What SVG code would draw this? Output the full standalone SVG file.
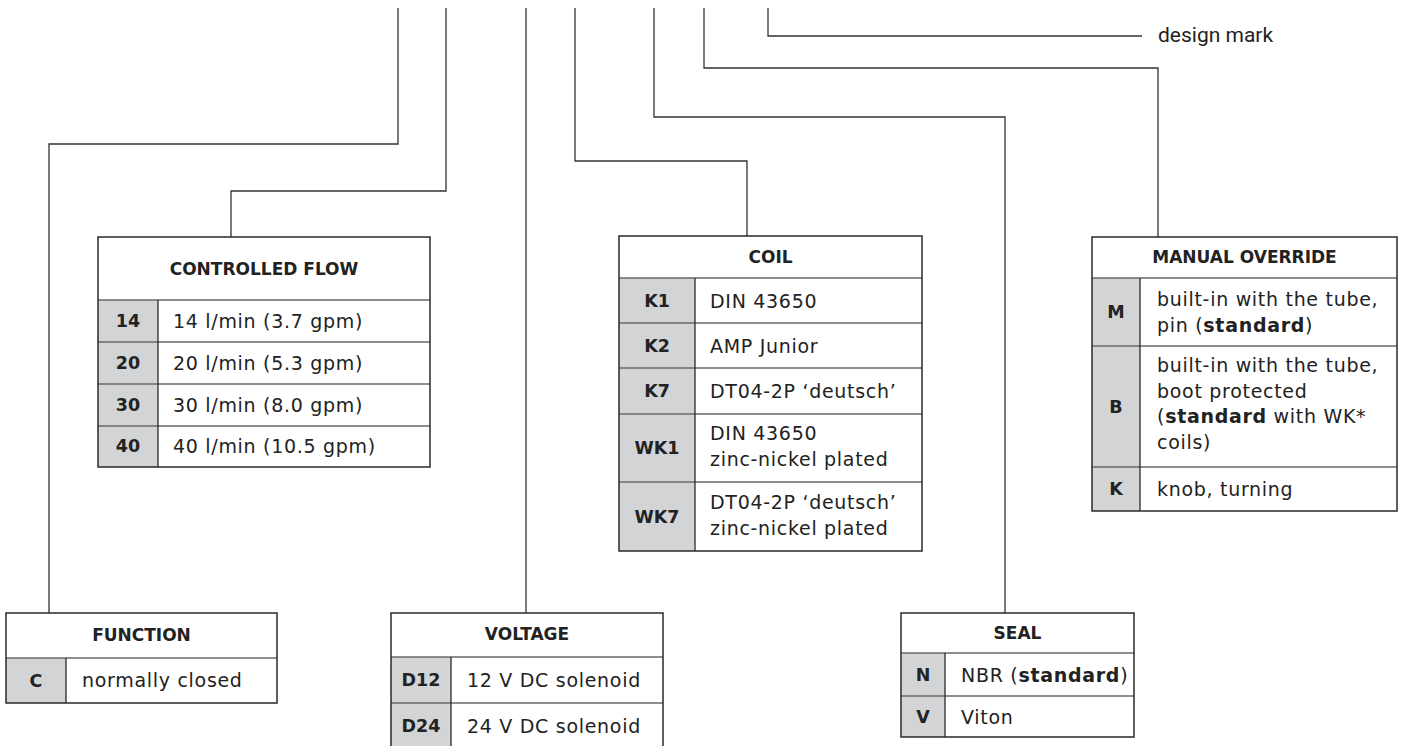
<svg xmlns="http://www.w3.org/2000/svg" width="1402" height="746" viewBox="0 0 1402 746">
<style>
.bg{fill:#ffffff}
.cell{fill:#d3d4d6}
.out{fill:none;stroke:#2a2a2a;stroke-width:1.5}
.sep{fill:none;stroke:#6a6a6a;stroke-width:1.5}
.col{fill:none;stroke:#2a2a2a;stroke-width:1.3}
.conn{fill:none;stroke:#333333;stroke-width:1.3}
text{fill:#222222;font-family:"DejaVu Sans","Liberation Sans",sans-serif}
.h{font-size:17px;font-weight:bold;text-anchor:middle}
.c{font-size:17.5px;font-weight:bold;text-anchor:middle}
.d{font-size:19px;letter-spacing:0.7px}
.b{font-weight:bold}
.mark{font-family:Roboto,"Liberation Sans",sans-serif;font-size:21px}
</style>

<g id="connectors">
<path class="conn" d="M398,8 V144 H49 V613"/>
<path class="conn" d="M446,8 V191 H231 V237"/>
<path class="conn" d="M526,8 V613"/>
<path class="conn" d="M575,8 V161 H747 V236"/>
<path class="conn" d="M654,8 V117 H1005 V613"/>
<path class="conn" d="M704,8 V68 H1158 V237"/>
<path class="conn" d="M768,8 V36 H1142"/>
</g>

<g id="design-mark">
<text class="mark" x="1158" y="42">design mark</text>
</g>

<g id="controlled-flow">
<rect class="bg" x="98" y="237" width="332" height="230"/>
<rect class="cell" x="98" y="300" width="60" height="167"/>
<path class="sep" d="M98,300 H430 M98,342 H430 M98,384 H430 M98,426 H430"/>
<path class="col" d="M158,300 V467"/>
<rect class="out" x="98" y="237" width="332" height="230"/>
<text class="h" x="264" y="275">CONTROLLED FLOW</text>
<text class="c" x="128" y="327">14</text>
<text class="c" x="128" y="369">20</text>
<text class="c" x="128" y="411">30</text>
<text class="c" x="128" y="452">40</text>
<text class="d" x="173" y="328">14 l/min (3.7 gpm)</text>
<text class="d" x="173" y="370">20 l/min (5.3 gpm)</text>
<text class="d" x="173" y="412">30 l/min (8.0 gpm)</text>
<text class="d" x="173" y="453">40 l/min (10.5 gpm)</text>
</g>

<g id="coil">
<rect class="bg" x="619" y="236" width="303" height="315"/>
<rect class="cell" x="619" y="278" width="76" height="273"/>
<path class="sep" d="M619,278 H922 M619,323 H922 M619,368 H922 M619,414 H922 M619,482 H922"/>
<path class="col" d="M695,278 V551"/>
<rect class="out" x="619" y="236" width="303" height="315"/>
<text class="h" x="770.5" y="263">COIL</text>
<text class="c" x="657" y="307">K1</text>
<text class="c" x="657" y="352">K2</text>
<text class="c" x="657" y="397">K7</text>
<text class="c" x="657" y="454">WK1</text>
<text class="c" x="657" y="523">WK7</text>
<text class="d" x="710" y="308">DIN 43650</text>
<text class="d" x="710" y="353">AMP Junior</text>
<text class="d" x="710" y="398">DT04-2P ‘deutsch’</text>
<text class="d" x="710" y="440">DIN 43650</text>
<text class="d" x="710" y="466">zinc-nickel plated</text>
<text class="d" x="710" y="509">DT04-2P ‘deutsch’</text>
<text class="d" x="710" y="535">zinc-nickel plated</text>
</g>

<g id="manual-override">
<rect class="bg" x="1092" y="237" width="305" height="274"/>
<rect class="cell" x="1092" y="278" width="48" height="233"/>
<path class="sep" d="M1092,278 H1397 M1092,346 H1397 M1092,467 H1397"/>
<path class="col" d="M1140,278 V511"/>
<rect class="out" x="1092" y="237" width="305" height="274"/>
<text class="h" x="1244.5" y="263">MANUAL OVERRIDE</text>
<text class="c" x="1116" y="318">M</text>
<text class="c" x="1116" y="413">B</text>
<text class="c" x="1116" y="495">K</text>
<text class="d" x="1157" y="306">built-in with the tube,</text>
<text class="d" x="1157" y="332">pin (<tspan class="b">standard</tspan>)</text>
<text class="d" x="1157" y="372">built-in with the tube,</text>
<text class="d" x="1157" y="397.5">boot protected</text>
<text class="d" x="1157" y="423">(<tspan class="b">standard</tspan> with WK*</text>
<text class="d" x="1157" y="448.5">coils)</text>
<text class="d" x="1157" y="496">knob, turning</text>
</g>

<g id="function">
<rect class="bg" x="6" y="613" width="271" height="90"/>
<rect class="cell" x="6" y="658" width="60" height="45"/>
<path class="sep" d="M6,658 H277"/>
<path class="col" d="M66,658 V703"/>
<rect class="out" x="6" y="613" width="271" height="90"/>
<text class="h" x="141.5" y="641">FUNCTION</text>
<text class="c" x="36" y="687">C</text>
<text class="d" x="82" y="687">normally closed</text>
</g>

<g id="voltage">
<rect class="bg" x="391" y="613" width="272" height="140"/>
<rect class="cell" x="391" y="657" width="60" height="96"/>
<path class="sep" d="M391,657 H663 M391,703 H663"/>
<path class="col" d="M451,657 V750"/>
<path class="out" d="M391,750 V613 H663 V750"/>
<text class="h" x="527" y="640">VOLTAGE</text>
<text class="c" x="421" y="686">D12</text>
<text class="c" x="421" y="732">D24</text>
<text class="d" x="467" y="687">12 V DC solenoid</text>
<text class="d" x="467" y="733">24 V DC solenoid</text>
</g>

<g id="seal">
<rect class="bg" x="901" y="613" width="233" height="124"/>
<rect class="cell" x="901" y="653" width="44" height="84"/>
<path class="sep" d="M901,653 H1134 M901,696 H1134"/>
<path class="col" d="M945,653 V737"/>
<rect class="out" x="901" y="613" width="233" height="124"/>
<text class="h" x="1017.5" y="639">SEAL</text>
<text class="c" x="923" y="681">N</text>
<text class="c" x="923" y="723">V</text>
<text class="d" x="961" y="682">NBR (<tspan class="b">standard</tspan>)</text>
<text class="d" x="961" y="724">Viton</text>
</g>
</svg>
